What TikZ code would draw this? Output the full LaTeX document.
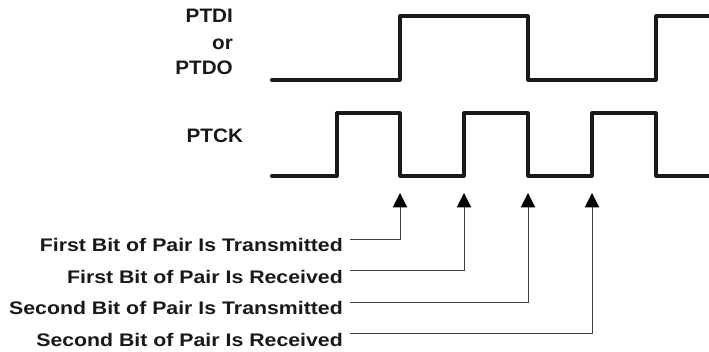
\documentclass[tikz,border=0pt]{standalone}
\usepackage{fontspec}
\setmainfont{Liberation Sans}
\newfontfamily\hdrfont{Liberation Sans}[FakeStretch=1.06]
\newfontfamily\lblfont{Liberation Sans}[FakeStretch=1.17]
\usetikzlibrary{arrows.meta}
\begin{document}
\begin{tikzpicture}[x=1pt,y=-1pt,
  signal/.style={line width=3.2pt,line join=round,line cap=round,black!90},
  leader/.style={line width=1pt,black!75,-{Triangle[width=14.5pt,length=14.5pt,color=black]}},
  hdr/.style={inner sep=0pt,anchor=base east,font=\hdrfont\bfseries\fontsize{19.5}{22}\selectfont,text=black!90},
  lbl/.style={inner sep=0pt,anchor=base east,font=\lblfont\bfseries\fontsize{18.2}{20}\selectfont,text=black!90}]
\fill[white] (0,0) rectangle (709,352);
\useasboundingbox (0,0) rectangle (709,352);
% headers
\node[hdr] (ptdi) at (233,22.7) {PTDI};
\node[hdr] (or) at (233,49.3) {or};
\node[hdr] (ptdo) at (233,75) {PTDO};
\node[hdr,anchor=base west] (ptck) at (186.5,142.3) {PTCK};
% data signal
\coordinate (d0) at (271.5,80);
\coordinate (d1) at (709.5,16);
\draw[signal] (d0) -- (400,80) -- (400,16) -- (528,16) -- (528,80) -- (656,80) -- (656,16) -- (d1);
% clock signal
\coordinate (c0) at (271.5,176);
\coordinate (c1) at (709.5,176);
\draw[signal] (c0) -- (337,176) -- (337,113) -- (400,113) -- (400,176) -- (464,176) -- (464,113)
  -- (528,113) -- (528,176) -- (592,176) -- (592,113) -- (656,113) -- (656,176) -- (c1);
% labels
\node[lbl] (l1) at (343,251.5) {First Bit of Pair Is Transmitted};
\node[lbl] (l2) at (343,283.2) {First Bit of Pair Is Received};
\node[lbl] (l3) at (343,314.8) {Second Bit of Pair Is Transmitted};
\node[lbl] (l4) at (343,346.5) {Second Bit of Pair Is Received};
\coordinate (s1) at (350,240);
\coordinate (s2) at (350,271);
\coordinate (s3) at (350,302.7);
\coordinate (s4) at (350,334);
\coordinate (a1) at (400,193);
\coordinate (a2) at (464,193);
\coordinate (a3) at (528,193);
\coordinate (a4) at (592,193);
\draw[leader] (s1) -| (a1);
\draw[leader] (s2) -| (a2);
\draw[leader] (s3) -| (a3);
\draw[leader] (s4) -| (a4);
\end{tikzpicture}
\end{document}
